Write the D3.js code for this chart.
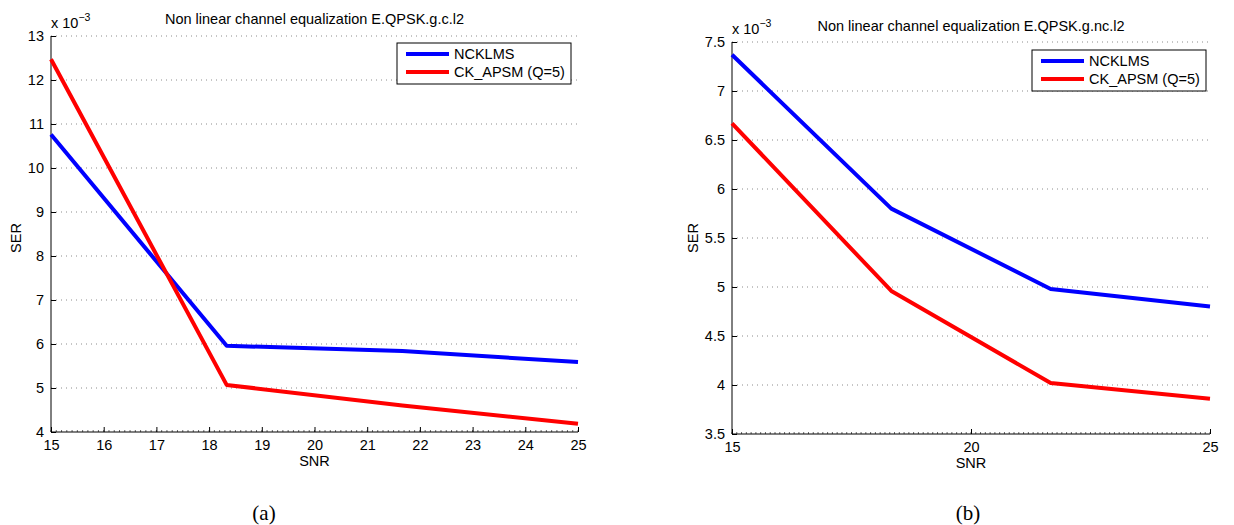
<!DOCTYPE html>
<html>
<head>
<meta charset="utf-8">
<script src="https://cdn.jsdelivr.net/npm/d3@7"></script>
<style>
  body { margin: 0; background: #fff; }
  svg { display: block; font-family: "Liberation Sans", Arial, sans-serif; }
</style>
</head>
<body>
<svg id="chart" width="1234" height="525"></svg>
<script>
// values (SER in units of 1e-3)
const snr = [15, 18.333, 21.667, 25];
const ncklmsA = [10.76, 5.96, 5.84, 5.59];
const ckapsmA = [12.47, 5.07, 4.60, 4.19];
const ncklmsB = [7.37, 5.80, 4.98, 4.80];
const ckapsmB = [6.67, 4.96, 4.02, 3.86];

const seriesNames = ["NCKLMS", "CK_APSM (Q=5)"];
const seriesColors = ["#0000ff", "#ff0000"];

const xTicksA = [15, 16, 17, 18, 19, 20, 21, 22, 23, 24, 25];
const yTicksA = [4, 5, 6, 7, 8, 9, 10, 11, 12, 13];
const xTicksB = [15, 20, 25];
const yTicksB = [3.5, 4, 4.5, 5, 5.5, 6, 6.5, 7, 7.5];

const fs = 14.5;
const svg = d3.select("#chart");

function drawPanel(p) {
  const g = svg.append("g");
  const x = d3.scaleLinear().domain([15, 25]).range([p.left, p.right]);
  const y = d3.scaleLinear().domain(p.yDomain).range([p.bottom, p.top]);

  // dotted horizontal grid
  g.append("g").selectAll("line")
    .data(p.yTicks.filter(t => t !== p.yDomain[0]))
    .join("line")
      .attr("x1", p.left).attr("x2", p.right)
      .attr("y1", d => y(d)).attr("y2", d => y(d))
      .attr("stroke", "#8c8c8c")
      .attr("stroke-width", 1)
      .attr("stroke-dasharray", "1,4");

  // minor ticks on x axis
  const minor = d3.range(15, 25.0001, 0.1);
  g.append("g").selectAll("line")
    .data(minor)
    .join("line")
      .attr("x1", d => x(d)).attr("x2", d => x(d))
      .attr("y1", p.bottom).attr("y2", p.bottom - 2)
      .attr("stroke", "#000").attr("stroke-width", 0.6);

  // x axis (ticks inward)
  const xAxis = g.append("g")
    .attr("transform", `translate(0,${p.bottom})`)
    .call(d3.axisBottom(x).tickValues(p.xTicks).tickSize(-5).tickPadding(8).tickFormat(d3.format("d")));
  xAxis.select(".domain").attr("stroke", "#000").attr("d", `M${p.left},0H${p.right}`);
  xAxis.selectAll("text").attr("font-size", fs).attr("font-family", "Liberation Sans, Arial").attr("fill", "#000");

  // y axis
  const yAxis = g.append("g")
    .attr("transform", `translate(${p.left},0)`)
    .call(d3.axisLeft(y).tickValues(p.yTicks).tickSize(-5).tickPadding(7).tickFormat(d => String(d)));
  yAxis.select(".domain").attr("stroke", "#000").attr("d", `M0,${p.bottom}V${p.top}`);
  yAxis.selectAll("text").attr("font-size", fs).attr("font-family", "Liberation Sans, Arial").attr("fill", "#000");

  // lines
  const line = d3.line().x((d, i) => x(snr[i])).y(d => y(d));
  p.series.forEach((s, i) => {
    g.append("path")
      .datum(s)
      .attr("d", line)
      .attr("fill", "none")
      .attr("stroke", seriesColors[i])
      .attr("stroke-width", 4)
      .attr("stroke-linejoin", "round");
  });

  // exponent label
  const ex = g.append("text")
    .attr("x", p.left)
    .attr("y", p.top - 8)
    .attr("font-size", fs);
  ex.append("tspan").text("x 10");
  ex.append("tspan").attr("dy", -7).attr("font-size", 10.5).text("\u22123");

  // title
  g.append("text")
    .attr("x", (p.left + p.right) / 2)
    .attr("y", p.titleY)
    .attr("text-anchor", "middle")
    .attr("font-size", fs)
    .text(p.title);

  // axis labels
  g.append("text")
    .attr("x", (p.left + p.right) / 2)
    .attr("y", p.bottom + 34)
    .attr("text-anchor", "middle")
    .attr("font-size", fs)
    .text("SNR");
  g.append("text")
    .attr("transform", `translate(${p.yLabelX},${p.yLabelY}) rotate(-90)`)
    .attr("text-anchor", "middle")
    .attr("font-size", fs)
    .text("SER");

  // legend
  const lg = g.append("g");
  lg.append("rect")
    .attr("x", p.legend[0]).attr("y", p.legend[1])
    .attr("width", 174).attr("height", 41)
    .attr("fill", "#fff").attr("stroke", "#000").attr("stroke-width", 1);
  seriesNames.forEach((name, i) => {
    const ly = p.legend[1] + 11 + i * 18;
    lg.append("line")
      .attr("x1", p.legend[0] + 9).attr("x2", p.legend[0] + 52)
      .attr("y1", ly).attr("y2", ly)
      .attr("stroke", seriesColors[i]).attr("stroke-width", 4);
    lg.append("text")
      .attr("x", p.legend[0] + 57).attr("y", ly + 5)
      .attr("font-size", fs)
      .text(name);
  });

  // caption
  svg.append("text")
    .attr("x", p.captionX)
    .attr("y", 520)
    .attr("text-anchor", "middle")
    .attr("font-family", "Liberation Serif, Times New Roman, serif")
    .attr("font-size", 21)
    .text(p.caption);
}

drawPanel({
  left: 51, right: 578, top: 36, bottom: 432,
  yDomain: [4, 13], xTicks: xTicksA, yTicks: yTicksA,
  series: [ncklmsA, ckapsmA],
  title: "Non linear channel equalization E.QPSK.g.c.l2", titleY: 24,
  yLabelX: 21, yLabelY: 238,
  legend: [397, 43],
  caption: "(a)", captionX: 264
});

drawPanel({
  left: 732, right: 1210, top: 42, bottom: 434,
  yDomain: [3.5, 7.5], xTicks: xTicksB, yTicks: yTicksB,
  series: [ncklmsB, ckapsmB],
  title: "Non linear channel equalization E.QPSK.g.nc.l2", titleY: 31,
  yLabelX: 698, yLabelY: 238,
  legend: [1032, 50],
  caption: "(b)", captionX: 968
});
</script>
</body>
</html>
